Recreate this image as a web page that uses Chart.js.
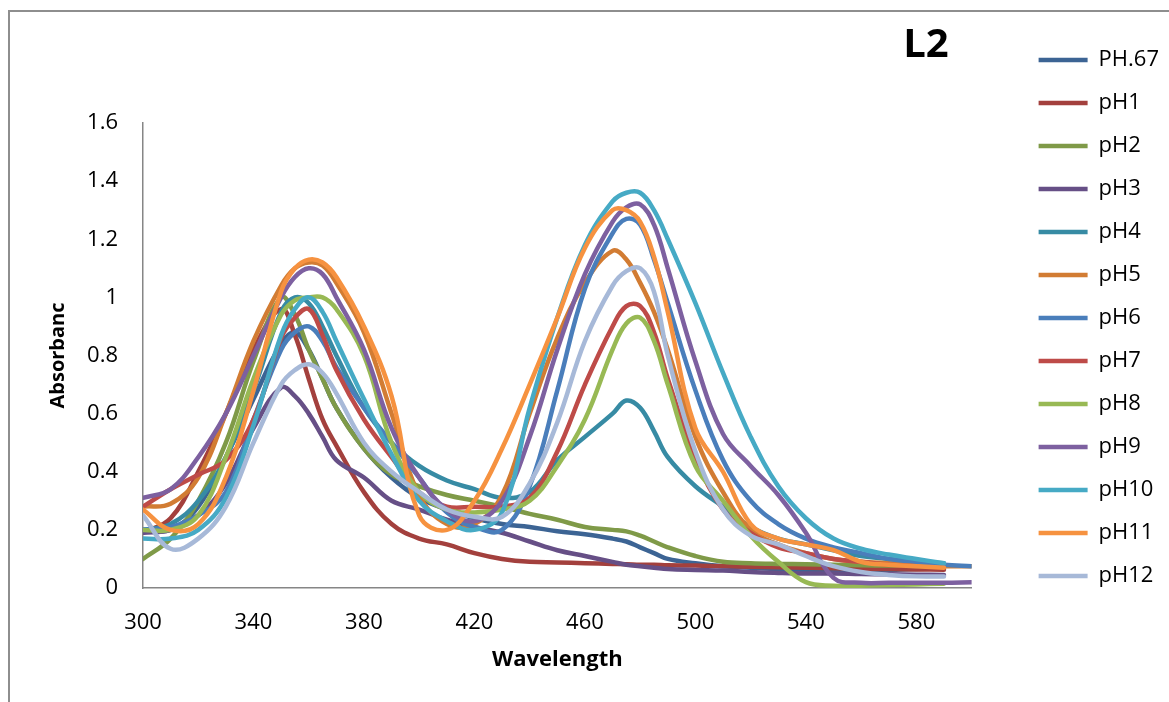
<!DOCTYPE html>
<html lang="en">

<head>
    <meta charset="UTF-8">
    <title>L2 absorption spectra</title>
    <script src="https://cdn.jsdelivr.net/npm/chart.js"></script>
    <style>
        html, body { margin: 0; padding: 0; background: #fff; }
        #wrap { position: relative; width: 1169px; height: 702px; overflow: hidden; }
        #frame { position: absolute; left: 8px; top: 10px; right: -4px; bottom: -4px;
                 border-left: 2px solid #8e8e8e; border-top: 2px solid #8e8e8e; }
        #specCanvas { position: absolute; left: 0; top: 0; }
    </style>
</head>

<body>
<div id="wrap">
    <div id="frame"></div>
    <canvas id="specCanvas" width="1169" height="702"></canvas>
</div>

<script>
    // wavelength grid (nm) shared by every spectrum
    const wavelengths = [300, 310, 320, 330, 340, 350, 355, 360, 365, 370, 380, 390, 400, 410, 420, 430, 440, 450,
        460, 470, 475, 480, 485, 490, 500, 510, 520, 530, 540, 550, 560, 570, 580, 590, 600];
    const xTickValues = [300, 340, 380, 420, 460, 500, 540, 580];

    // absorbance readings, one array per pH
    const absPH067 = [0.2, 0.2, 0.28, 0.45, 0.65, 0.84, 0.88, 0.82, 0.72, 0.62, 0.48, 0.38, 0.31, 0.27, 0.24, 0.22, 0.21, 0.195,
        0.185, 0.17, 0.16, 0.14, 0.12, 0.1, 0.085, 0.075, 0.07, 0.065, 0.062, 0.06, 0.06, 0.062, 0.065, 0.068, null];
    const absPH1 = [0.19, 0.24, 0.4, 0.6, 0.82, 0.96, 0.87, 0.72, 0.58, 0.49, 0.33, 0.22, 0.17, 0.15, 0.12, 0.1, 0.09, 0.088,
        0.085, 0.083, 0.082, 0.08, 0.08, 0.078, 0.077, 0.075, 0.073, 0.071, 0.07, 0.068, 0.066, 0.065, 0.064, 0.063, null];
    const absPH2 = [0.1, 0.17, 0.3, 0.5, 0.78, 1.0, 0.94, 0.82, 0.72, 0.62, 0.48, 0.39, 0.35, 0.32, 0.3, 0.28, 0.255, 0.235,
        0.21, 0.2, 0.195, 0.18, 0.16, 0.14, 0.11, 0.09, 0.085, 0.083, 0.082, 0.08, 0.078, 0.077, 0.076, 0.075, null];
    const absPH3 = [0.19, 0.2, 0.25, 0.36, 0.55, 0.69, 0.66, 0.6, 0.52, 0.44, 0.38, 0.3, 0.27, 0.235, 0.21, 0.19, 0.16, 0.13,
        0.11, 0.09, 0.08, 0.075, 0.07, 0.065, 0.062, 0.06, 0.055, 0.052, 0.05, 0.05, 0.048, 0.047, 0.046, 0.045, null];
    const absPH4 = [0.2, 0.22, 0.3, 0.45, 0.68, 0.95, 1.0, 0.98, 0.9, 0.8, 0.62, 0.5, 0.42, 0.37, 0.34, 0.31, 0.33, 0.44,
        0.52, 0.6, 0.645, 0.62, 0.54, 0.45, 0.35, 0.28, 0.21, 0.17, 0.15, 0.13, 0.11, 0.1, 0.09, 0.085, null];
    const absPH5 = [0.28, 0.29, 0.38, 0.6, 0.85, 1.04, 1.1, 1.12, 1.11, 1.05, 0.88, 0.6, 0.32, 0.22, 0.22, 0.32, 0.6, 0.86,
        1.05, 1.16, 1.13, 1.05, 0.95, 0.82, 0.52, 0.33, 0.2, 0.15, 0.12, 0.1, 0.09, 0.085, 0.08, 0.075, 0.075];
    const absPH6 = [0.2, 0.21, 0.25, 0.33, 0.58, 0.82, 0.88, 0.9, 0.85, 0.76, 0.62, 0.5, 0.38, 0.26, 0.21, 0.2, 0.35, 0.68,
        1.03, 1.22, 1.27, 1.25, 1.13, 0.98, 0.68, 0.44, 0.3, 0.22, 0.17, 0.14, 0.12, 0.1, 0.09, 0.08, 0.075];
    const absPH7 = [0.28, 0.34, 0.39, 0.44, 0.58, 0.86, 0.93, 0.96, 0.87, 0.75, 0.58, 0.45, 0.33, 0.28, 0.28, 0.28, 0.31, 0.47,
        0.7, 0.9, 0.97, 0.97, 0.88, 0.72, 0.45, 0.27, 0.19, 0.14, 0.12, 0.1, 0.09, 0.08, 0.075, null, null];
    const absPH8 = [0.2, 0.2, 0.25, 0.45, 0.72, 0.94, 0.99, 1.0, 1.0, 0.96, 0.8, 0.5, 0.33, 0.27, 0.26, 0.27, 0.3, 0.42,
        0.58, 0.82, 0.91, 0.93, 0.85, 0.7, 0.42, 0.3, 0.18, 0.09, 0.02, 0.008, 0.008, 0.01, 0.012, 0.015, null];
    const absPH9 = [0.31, 0.34, 0.45, 0.6, 0.8, 1.0, 1.07, 1.1, 1.08, 1.0, 0.82, 0.55, 0.38, 0.27, 0.23, 0.3, 0.52, 0.82,
        1.08, 1.26, 1.31, 1.32, 1.25, 1.1, 0.78, 0.53, 0.42, 0.32, 0.19, 0.035, 0.018, 0.018, 0.018, 0.018, 0.02];
    const absPH10 = [0.17, 0.17, 0.2, 0.31, 0.56, 0.87, 0.96, 1.0, 0.95, 0.85, 0.65, 0.46, 0.3, 0.23, 0.2, 0.26, 0.62, 0.93,
        1.18, 1.33, 1.36, 1.36, 1.3, 1.2, 0.98, 0.74, 0.52, 0.35, 0.24, 0.17, 0.135, 0.115, 0.1, 0.085, null];
    const absPH11 = [0.27, 0.2, 0.22, 0.38, 0.68, 1.02, 1.1, 1.13, 1.12, 1.07, 0.9, 0.66, 0.25, 0.2, 0.3, 0.48, 0.7, 0.93,
        1.17, 1.3, 1.3, 1.26, 1.14, 0.95, 0.55, 0.4, 0.22, 0.17, 0.15, 0.13, 0.09, 0.08, 0.075, 0.07, null];
    const absPH12 = [0.25, 0.135, 0.17, 0.28, 0.5, 0.7, 0.75, 0.77, 0.74, 0.67, 0.5, 0.4, 0.33, 0.27, 0.245, 0.245, 0.36, 0.57,
        0.85, 1.04, 1.09, 1.1, 1.02, 0.8, 0.47, 0.27, 0.18, 0.15, 0.11, 0.075, 0.055, 0.045, 0.04, 0.04, null];

    const seriesNames = ['PH.67', 'pH1', 'pH2', 'pH3', 'pH4', 'pH5', 'pH6', 'pH7', 'pH8', 'pH9', 'pH10', 'pH11', 'pH12'];
    const seriesValues = [absPH067, absPH1, absPH2, absPH3, absPH4, absPH5, absPH6, absPH7, absPH8, absPH9, absPH10, absPH11, absPH12];
    const seriesColors = ['#3c6494', '#a3403d', '#7f9a48', '#664f86', '#378ba4', '#d27c33', '#4a7ebb',
        '#be4b48', '#98b954', '#7d60a0', '#46aac5', '#f69240', '#a7b9d8'];

    Chart.defaults.font.family = "'Open Sans', sans-serif";
    Chart.defaults.color = '#000';

    // big bold sample label in the upper right of the plot
    const sampleLabel = {
        id: 'sampleLabel',
        afterDraw(chart) {
            const { ctx, chartArea } = chart;
            ctx.save();
            ctx.font = "bold 40px 'Open Sans', sans-serif";
            ctx.fillStyle = '#000';
            ctx.textAlign = 'right';
            ctx.textBaseline = 'middle';
            ctx.fillText('L2', chartArea.right - 23, 46);
            ctx.restore();
        }
    };

    const axisLine = { color: '#868686', width: 1.5 };

    function renderSpectra() {
        const ctx = document.getElementById('specCanvas').getContext('2d');
        new Chart(ctx, {
            type: 'line',
            data: {
                datasets: seriesNames.map((name, i) => ({
                    label: name,
                    data: wavelengths.map((w, j) => ({ x: w, y: seriesValues[i][j] })),
                    borderColor: seriesColors[i],
                    backgroundColor: seriesColors[i],
                    borderWidth: 4.5,
                    borderCapStyle: 'round',
                    borderJoinStyle: 'round',
                    pointRadius: 0,
                    tension: 0.4,
                    fill: false,
                    order: -i, // later pH drawn on top
                    xAxisID: 'x',
                    yAxisID: 'y'
                }))
            },
            options: {
                responsive: false,
                animation: false,
                layout: { padding: 0 },
                plugins: {
                    legend: {
                        position: 'right',
                        align: 'start',
                        title: { display: true, text: '', font: { size: 10, lineHeight: 1.2 }, padding: { top: 16, bottom: 0 } },
                        labels: {
                            usePointStyle: true,
                            pointStyle: 'line',
                            pointStyleWidth: 49,
                            padding: 21,
                            color: '#000',
                            font: { size: 22 },
                            sort: (a, b) => a.datasetIndex - b.datasetIndex
                        }
                    },
                    tooltip: { enabled: false }
                },
                scales: {
                    x: {
                        type: 'linear',
                        position: 'bottom',
                        min: 300,
                        max: 600,
                        afterBuildTicks: axis => { axis.ticks = xTickValues.map(v => ({ value: v })); },
                        ticks: { padding: 22, font: { size: 22 }, maxRotation: 0 },
                        grid: { display: false, drawTicks: false },
                        border: axisLine,
                        title: {
                            display: true,
                            text: 'Wavelength',
                            font: { size: 22, weight: 'bold', lineHeight: 1.2 },
                            padding: { top: 0, bottom: 29 }
                        },
                        afterFit: s => { s.height = 114; }
                    },
                    y: {
                        type: 'linear',
                        position: 'left',
                        min: 0,
                        max: 1.6,
                        ticks: {
                            stepSize: 0.2,
                            padding: 25,
                            font: { size: 22 },
                            callback: v => String(Number(v.toFixed(1)))
                        },
                        grid: { display: false, drawTicks: false },
                        border: axisLine,
                        title: {
                            display: true,
                            text: 'Absorbanc',
                            font: { size: 20, weight: 'bold', lineHeight: 1.2 },
                            padding: { top: 46, bottom: 0 }
                        },
                        afterFit: s => { s.width = 143; }
                    },
                    // empty axes that only reserve room above and right of the plot
                    xTop: {
                        type: 'linear',
                        position: 'top',
                        display: true,
                        ticks: { display: false },
                        grid: { display: false, drawTicks: false },
                        border: { display: false },
                        afterFit: s => { s.height = 123; }
                    },
                    yGap: {
                        type: 'linear',
                        position: 'right',
                        display: true,
                        ticks: { display: false },
                        grid: { display: false, drawTicks: false },
                        border: { display: false },
                        afterFit: s => { s.width = 46; }
                    }
                }
            },
            plugins: [sampleLabel]
        });
    }

    renderSpectra();
</script>
</body>

</html>
